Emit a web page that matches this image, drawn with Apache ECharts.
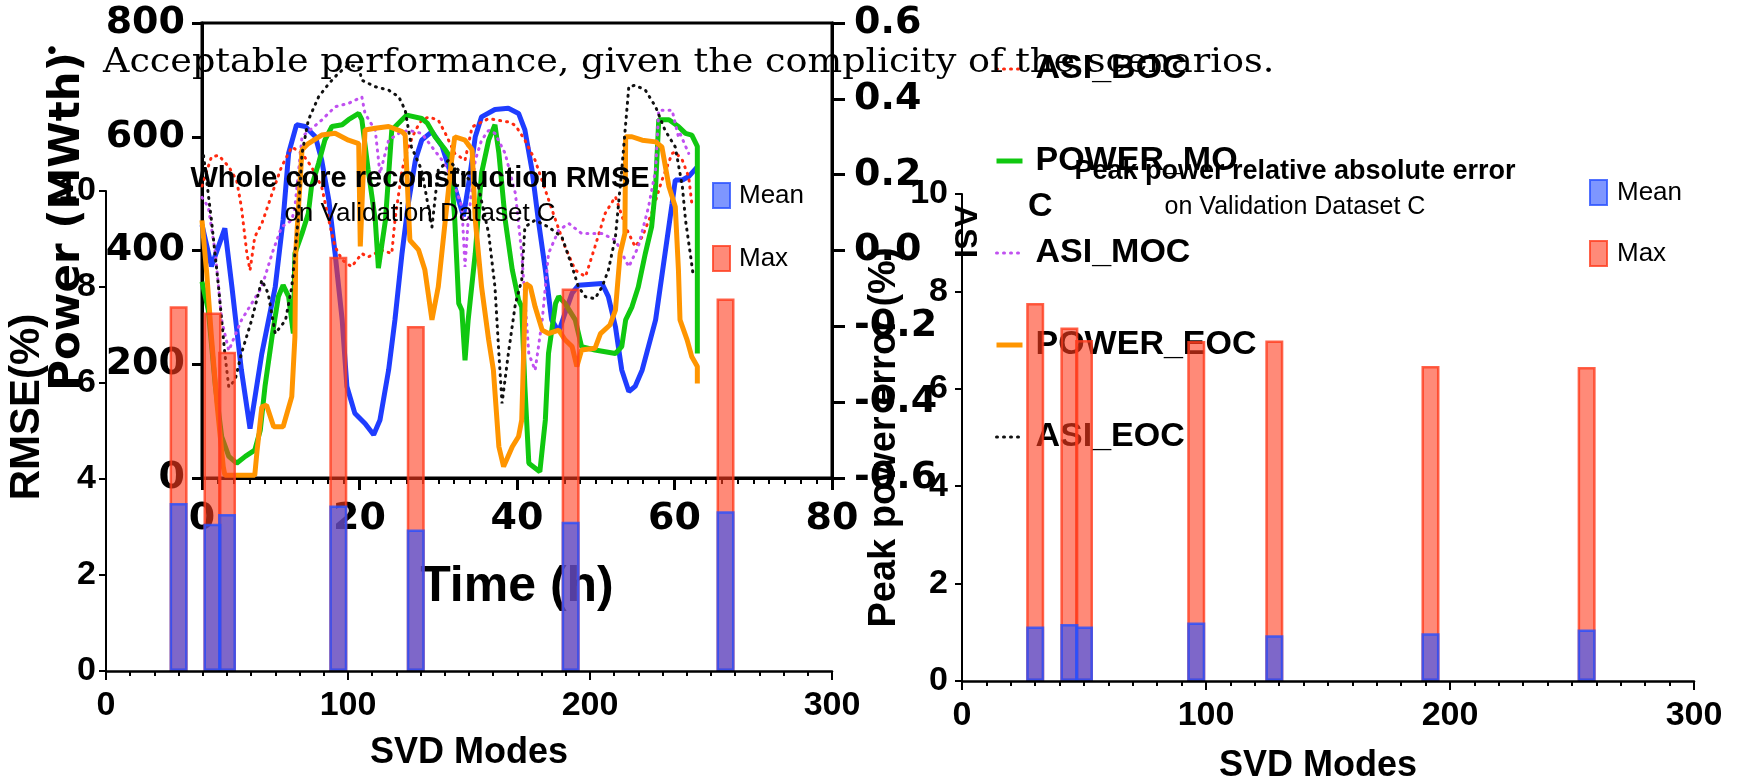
<!DOCTYPE html>
<html>
<head>
<meta charset="utf-8">
<script src="https://cdn.jsdelivr.net/npm/echarts@6/dist/echarts.min.js"></script>
<style>
html, body { margin: 0; padding: 0; background: #fff; }
#chart { width: 1740px; height: 778px; }
</style>
</head>
<body>
<div id="chart"></div>
<script>
// bar charts: error vs number of SVD modes
const svdModes = [30, 44, 50, 96, 128, 192, 256];
const rmseMean = [3.5, 3.07, 3.27, 3.45, 2.95, 3.11, 3.33];
const rmseMax = [7.6, 7.47, 6.65, 8.63, 7.19, 7.97, 7.76];
const peakMean = [1.12, 1.17, 1.12, 1.2, 0.94, 0.98, 1.06];
const peakMax = [7.76, 7.26, 7.0, 6.98, 6.99, 6.47, 6.45];

// power transients [time (h), MWth]
const powerBOC = [[0,445],[1.2,372],[2.9,439],[3.8,336],[5.0,190],[6.1,87],[7.6,219],[9.3,336],[10.3,454],[11.0,571],[12.0,621],[13.1,618],[14.4,600],[15.2,559],[16.1,489],[16.9,395],[17.8,278],[18.4,161],[19.4,114],[20.7,96],[21.8,76],[22.6,102],[23.7,190],[24.5,278],[25.4,395],[26.2,483],[27.1,559],[27.9,594],[29.2,609],[30.5,583],[31.7,530],[33.2,460],[34.0,530],[34.7,600],[35.5,635],[37.2,648],[38.9,650],[40.2,641],[41.0,612],[41.9,542],[42.7,454],[43.6,366],[44.4,278],[45.3,257],[46.1,290],[47.0,325],[47.8,339],[50.8,342],[51.6,319],[52.5,266],[53.3,190],[54.2,152],[55.0,161],[55.9,190],[57.6,278],[58.8,395],[59.7,483],[60.1,524],[61.0,524],[61.8,530],[62.9,547]];
const powerMOC = [[0,345],[0.8,295],[1.7,161],[2.5,73],[3.4,38],[4.4,26],[5.5,38],[6.7,49],[7.4,84],[8.0,161],[8.9,249],[9.7,319],[10.3,339],[11.0,319],[11.6,254],[11.8,395],[12.7,430],[13.5,465],[13.9,512],[14.8,553],[15.6,594],[16.5,618],[17.8,621],[18.6,630],[19.9,641],[20.3,630],[21.1,542],[22.0,454],[22.4,369],[23.3,454],[24.1,612],[25.4,630],[26.0,638],[27.9,632],[28.6,624],[29.6,600],[30.9,577],[31.5,565],[32.1,454],[32.6,307],[33.0,295],[33.4,207],[33.8,278],[34.7,395],[35.5,536],[36.4,594],[37.2,621],[37.7,571],[38.5,454],[39.4,366],[40.2,313],[40.6,301],[41.0,161],[41.5,26],[42.9,11],[43.6,102],[44.0,219],[44.9,307],[45.3,319],[46.1,307],[47.4,278],[48.2,231],[49.9,225],[52.5,219],[53.3,231],[53.8,278],[54.6,301],[55.4,336],[56.3,395],[57.1,442],[57.6,512],[58.0,630],[59.3,630],[60.5,618],[61.4,606],[62.2,603],[62.9,583],[62.9,219]];
const powerEOC = [[0,453],[0.6,360],[1.2,248],[1.9,131],[2.7,20],[2.9,5],[6.7,5],[7.0,49],[7.6,125],[8.2,128],[9.1,90],[10.3,90],[11.4,143],[11.8,248],[11.9,395],[12.7,577],[13.5,588],[15.2,603],[16.9,606],[18.6,594],[19.9,588],[20.1,407],[20.3,410],[20.7,612],[22.0,615],[23.7,618],[25.4,609],[25.8,603],[26.4,418],[27.5,401],[28.3,366],[29.2,278],[30.0,336],[30.9,454],[31.7,559],[32.1,600],[33.4,594],[34.3,577],[34.7,454],[35.5,336],[36.4,243],[37.0,190],[37.7,55],[38.3,20],[39.4,55],[40.2,73],[40.6,102],[41.1,342],[41.7,336],[42.3,301],[43.2,260],[44.0,254],[45.3,260],[46.1,243],[47.0,231],[47.6,196],[48.2,225],[49.9,228],[50.6,254],[51.8,269],[52.5,295],[53.1,395],[53.7,430],[53.8,600],[54.6,600],[55.9,594],[57.6,591],[58.4,582],[59.3,512],[60.1,477],[60.5,366],[60.7,278],[61.6,243],[62.2,213],[62.9,196],[62.9,166]];

// axial shape index [time (h), ASI]
const asiBOC = [[0,0.17],[1.2,0.247],[2.1,0.251],[3.4,0.221],[4.4,0.185],[5.0,0.115],[5.7,-0.008],[6.1,-0.052],[6.7,0.036],[7.6,0.071],[8.9,0.15],[10.1,0.221],[11.4,0.273],[12.7,0.256],[13.9,0.221],[15.2,0.168],[16.1,0.08],[16.9,0.01],[17.8,-0.025],[19.0,-0.043],[20.3,-0.008],[21.1,-0.017],[22.8,0.001],[24.1,-0.008],[24.5,0.08],[25.4,0.212],[26.2,0.273],[27.1,0.317],[27.9,0.344],[28.8,0.352],[30.0,0.344],[30.9,0.309],[32.1,0.256],[33.4,0.238],[34.3,0.326],[36.4,0.348],[38.9,0.339],[39.8,0.33],[41.0,0.291],[42.3,0.238],[43.6,0.159],[44.9,0.08],[46.1,0.01],[47.4,-0.052],[48.7,-0.069],[49.9,0.01],[51.2,0.098],[52.5,0.142],[53.8,0.062],[55.0,0.01],[55.9,0.036],[57.1,0.098],[58.4,0.185],[59.7,0.256],[60.1,0.26],[61.0,0.238],[61.8,0.194],[62.2,0.124]];
const asiMOC = [[0,0.14],[0.8,0.115],[1.7,-0.008],[2.5,-0.184],[3.4,-0.264],[5.0,-0.184],[6.3,-0.14],[7.6,-0.096],[8.9,-0.008],[10.1,0.062],[11.4,0.08],[11.8,0.115],[12.7,0.3],[15.2,0.344],[16.9,0.379],[18.6,0.388],[20.3,0.405],[20.7,0.361],[22.0,0.317],[22.6,0.203],[23.7,0.291],[25.0,0.309],[26.2,0.317],[27.9,0.309],[29.2,0.273],[30.5,0.238],[31.7,0.194],[33.0,0.115],[33.4,-0.043],[33.8,0.08],[34.7,0.238],[35.5,0.291],[36.4,0.317],[37.2,0.309],[38.5,0.256],[39.8,0.15],[40.6,-0.008],[41.5,-0.272],[42.3,-0.316],[43.2,-0.184],[44.0,-0.008],[45.3,0.054],[46.6,0.071],[48.2,0.045],[50.8,0.045],[52.5,0.027],[54.2,-0.043],[55.4,0.01],[56.7,0.115],[57.6,0.212],[58.0,0.37],[59.7,0.37],[60.5,0.3],[60.7,0.309],[61.8,0.256]];
const asiEOC = [[0.2,0.25],[1.2,0.08],[2.1,-0.096],[2.9,-0.272],[3.4,-0.36],[4.2,-0.342],[5.0,-0.272],[6.3,-0.184],[7.6,-0.078],[8.4,-0.113],[9.3,-0.219],[10.6,-0.184],[11.4,-0.096],[12.2,0.08],[12.7,0.256],[13.5,0.344],[14.8,0.405],[16.1,0.44],[17.3,0.467],[18.6,0.489],[19.9,0.484],[20.3,0.449],[22.0,0.432],[23.7,0.423],[25.0,0.405],[25.8,0.37],[26.6,0.273],[27.9,0.212],[29.2,0.062],[30.0,0.212],[31.3,0.238],[33.0,0.203],[35.1,0.168],[36.4,0.045],[37.2,-0.096],[37.7,-0.272],[38.1,-0.403],[38.9,-0.272],[39.8,-0.14],[40.6,-0.078],[41.0,0.062],[42.3,0.08],[44.0,0.062],[45.7,0.036],[47.0,-0.043],[47.8,-0.096],[48.7,-0.122],[49.9,-0.127],[50.8,-0.096],[51.6,-0.052],[52.5,0.036],[53.3,0.212],[54.2,0.432],[55.0,0.436],[56.3,0.423],[57.6,0.379],[58.8,0.317],[60.1,0.273],[61.0,0.168],[61.4,0.08],[62.0,-0.008],[62.4,-0.069]];

const lineNames = ['POWER_BOC', 'ASI_BOC', 'POWER_MOC', 'ASI_MOC', 'POWER_EOC', 'ASI_EOC'];

const BOLD_WIDE = { fontFamily: 'DejaVu Sans', fontWeight: 'bold', color: '#000' };
const BOLD = { fontFamily: 'Liberation Sans', fontWeight: 'bold', color: '#000' };

const meanStyle = { color: 'rgba(40,80,255,0.6)', borderColor: 'rgba(40,80,255,0.8)', borderWidth: 2.5 };
const maxStyle = { color: 'rgba(255,60,30,0.6)', borderColor: 'rgba(255,60,30,0.8)', borderWidth: 2.5 };

function powerLine(name, data, color) {
    return {
        name: name, type: 'line', xAxisIndex: 0, yAxisIndex: 0, data: data,
        symbol: 'none', showSymbol: false, z: 2,
        itemStyle: { color: color },
        lineStyle: { color: color, width: 5 }
    };
}
function asiLine(name, data, color) {
    return {
        name: name, type: 'line', xAxisIndex: 0, yAxisIndex: 1, data: data,
        symbol: 'none', showSymbol: false, z: 2,
        itemStyle: { color: color },
        lineStyle: { color: color, width: 3, type: [1, 6], cap: 'round' }
    };
}
function barSeries(name, modes, vals, style, axis) {
    return {
        name: name, type: 'bar', xAxisIndex: axis, yAxisIndex: axis + 1,
        data: modes.map((m, i) => [m, vals[i]]),
        barWidth: 18, barGap: '-100%', z: 10,
        itemStyle: style
    };
}

function barXAxis(grid, gap, pad) {
    return {
        type: 'value', gridIndex: grid, min: 0, max: 300, interval: 100, z: 11,
        axisLine: { show: true, lineStyle: { color: '#000', width: 2.5 } },
        axisTick: { show: true, length: 9, lineStyle: { color: '#000', width: 2 } },
        minorTick: { show: true, splitNumber: 10, length: 5, lineStyle: { color: '#000', width: 2 } },
        splitLine: { show: false },
        axisLabel: Object.assign({ fontSize: 34, margin: 18 }, BOLD),
        name: 'SVD Modes', nameLocation: 'middle', nameGap: gap,
        nameTextStyle: Object.assign({ fontSize: 36, padding: pad }, BOLD)
    };
}
function barYAxis(grid, name, gap, margin, pad, size) {
    return {
        type: 'value', gridIndex: grid, min: 0, max: 10, interval: 2, z: 11,
        axisLine: { show: true, lineStyle: { color: '#000', width: 2 } },
        axisTick: { show: true, length: 7, lineStyle: { color: '#000', width: 2 } },
        splitLine: { show: false },
        axisLabel: Object.assign({ fontSize: 34, margin: margin }, BOLD),
        name: name, nameLocation: 'middle', nameGap: gap,
        nameTextStyle: Object.assign({ fontSize: size, padding: pad }, BOLD)
    };
}

const chart = echarts.init(document.getElementById('chart'));
chart.setOption({
    animation: false,
    backgroundColor: '#fff',
    title: [
        {
            text: 'Whole core reconstruction RMSE', subtext: 'on Validation Dataset C',
            left: 415, top: 159, textAlign: 'center', itemGap: 8, z: 12,
            textStyle: Object.assign({ fontSize: 29 }, BOLD),
            subtextStyle: { fontFamily: 'Liberation Sans', fontSize: 26, color: '#000' }
        },
        {
            text: 'Peak power relative absolute error', subtext: 'on Validation Dataset C',
            left: 1290, top: 153, textAlign: 'center', itemGap: 10, z: 12,
            textStyle: Object.assign({ fontSize: 27 }, BOLD),
            subtextStyle: { fontFamily: 'Liberation Sans', fontSize: 25, color: '#000' }
        }
    ],
    legend: [
        {
            data: lineNames, orient: 'vertical', left: 989, top: -45,
            itemWidth: 26, itemHeight: 14, itemGap: 58, selectedMode: false, z: 3,
            itemStyle: { opacity: 0 },
            lineStyle: { width: 'inherit' },
            formatter: n => (n === 'POWER_MOC' ? 'POWER_MO' : n),
            textStyle: Object.assign({ fontSize: 34, lineHeight: 34, padding: [0, 0, 0, 8] }, BOLD)
        },
        {
            data: ['Mean', 'Max'], orient: 'vertical', left: 707, top: 177,
            icon: 'rect', itemWidth: 17, itemHeight: 25, itemGap: 36, selectedMode: false, z: 11,
            textStyle: { fontFamily: 'Liberation Sans', fontSize: 26, color: '#000', padding: [0, 0, 0, 4] }
        },
        {
            data: ['Mean', 'Max'], orient: 'vertical', left: 1584, top: 174,
            icon: 'rect', itemWidth: 17, itemHeight: 25, itemGap: 34, selectedMode: false, z: 11,
            textStyle: { fontFamily: 'Liberation Sans', fontSize: 26, color: '#000', padding: [0, 0, 0, 5] }
        }
    ],
    grid: [
        { left: 202, top: 23, width: 630, height: 455, outerBoundsMode: 'none', show: true, borderColor: '#000', borderWidth: 3 },
        { left: 106, top: 191, width: 726, height: 480, outerBoundsMode: 'none' },
        { left: 962, top: 194, width: 732, height: 487, outerBoundsMode: 'none' }
    ],
    xAxis: [
        {
            type: 'value', gridIndex: 0, min: 0, max: 80, interval: 20,
            axisLine: { show: true, lineStyle: { color: '#000', width: 3 } },
            axisTick: { show: true, length: 12, lineStyle: { color: '#000', width: 3 } },
            minorTick: { show: true, splitNumber: 10, length: 6, lineStyle: { color: '#000', width: 2 } },
            splitLine: { show: false },
            axisLabel: Object.assign({ fontSize: 38, margin: 22 }, BOLD_WIDE),
            name: 'Time (h)', nameLocation: 'middle', nameGap: 84,
            nameTextStyle: Object.assign({ fontSize: 50 }, BOLD)
        },
        barXAxis(1, 64, [0, 0, 0, 0]),
        barXAxis(2, 67, [0, 20, 0, 0])
    ],
    yAxis: [
        {
            type: 'value', gridIndex: 0, min: 0, max: 800, interval: 200, position: 'left',
            axisLine: { show: true, lineStyle: { color: '#000', width: 3 } },
            axisTick: { show: true, length: 10, lineStyle: { color: '#000', width: 3 } },
            splitLine: { show: false },
            axisLabel: Object.assign({ fontSize: 38, margin: 17 }, BOLD_WIDE),
            name: 'Power (MWth)', nameLocation: 'middle', nameGap: 113,
            nameTextStyle: Object.assign({ fontSize: 42, padding: [0, 0, 0, 58] }, BOLD_WIDE)
        },
        {
            type: 'value', gridIndex: 0, min: -0.6, max: 0.6, interval: 0.2, position: 'right',
            axisLine: { show: true, lineStyle: { color: '#000', width: 3 } },
            axisTick: { show: true, length: 13, lineStyle: { color: '#000', width: 3 } },
            splitLine: { show: false },
            axisLabel: Object.assign({
                fontSize: 38, margin: 22,
                formatter: v => (Math.abs(v) < 1e-9 ? '0.0' : v.toFixed(1))
            }, BOLD_WIDE),
            name: 'ASI', nameLocation: 'middle', nameGap: 116, nameRotate: -90,
            nameTextStyle: Object.assign({ fontSize: 32, padding: [0, 38, 0, 0] }, BOLD)
        },
        barYAxis(1, 'RMSE(%)', 58, 10, [0, 0, 0, 48], 42),
        barYAxis(2, 'Peak power error (%)', 58, 14, [0, 0, 0, 0], 38)
    ],
    series: [
        powerLine('POWER_BOC', powerBOC, '#1f3dff'),
        asiLine('ASI_BOC', asiBOC, '#ff2a10'),
        powerLine('POWER_MOC', powerMOC, '#10c810'),
        asiLine('ASI_MOC', asiMOC, '#c050f0'),
        powerLine('POWER_EOC', powerEOC, '#ff9500'),
        asiLine('ASI_EOC', asiEOC, '#111'),
        barSeries('Max', svdModes, rmseMax, maxStyle, 1),
        barSeries('Mean', svdModes, rmseMean, meanStyle, 1),
        barSeries('Max', svdModes, peakMax, maxStyle, 2),
        barSeries('Mean', svdModes, peakMean, meanStyle, 2)
    ],
    graphic: [
        {
            type: 'text', x: 103, y: 63, scaleX: 1.075, z: 5,
            style: {
                text: 'Acceptable performance, given the complicity of the scenarios.',
                font: 'normal 34px "DejaVu Serif"', fill: '#000', verticalAlign: 'middle'
            }
        },
        {
            type: 'text', x: 52, y: 53, z: 5,
            style: { text: '•', font: 'normal 26px "DejaVu Sans"', fill: '#000', align: 'center', verticalAlign: 'middle' }
        },
        {
            type: 'text', x: 1028, y: 207, z: 3,
            style: { text: 'C', font: 'bold 34px "Liberation Sans"', fill: '#000', verticalAlign: 'middle' }
        }
    ]
});
</script>
</body>
</html>
